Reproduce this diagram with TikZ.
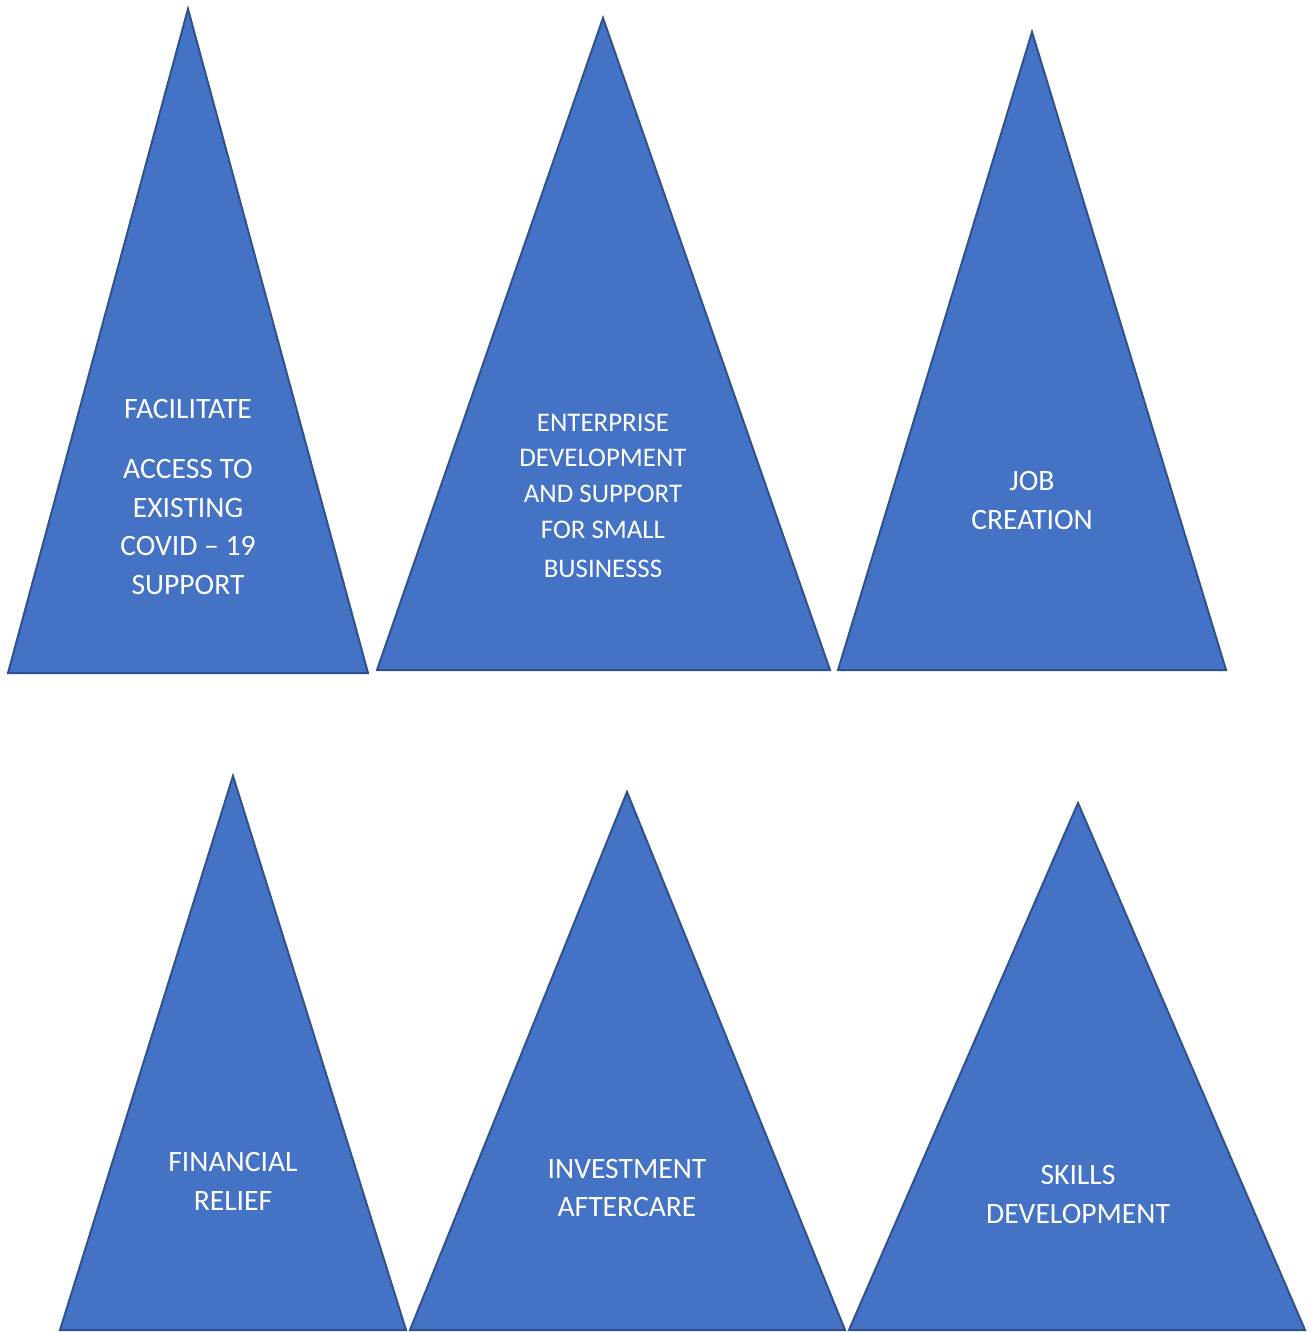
\documentclass[tikz,border=0pt]{standalone}
\usepackage{fontspec}
\setmainfont{Carlito}
\definecolor{triFill}{HTML}{4472C4}
\definecolor{triLine}{HTML}{2F528F}
\begin{document}
\begin{tikzpicture}[x=1pt,y=-1pt,
  tri/.style={fill=triFill,draw=triLine,line width=2pt,line join=miter},
  lbl/.style={text=white,anchor=base,inner sep=0pt,font=\fontsize{29.6}{35}\selectfont},
  lbls/.style={text=white,anchor=base,inner sep=0pt,font=\fontsize{26.9}{32}\selectfont}]
\useasboundingbox (0,0) rectangle (1314,1332);
% top row
\draw[tri] (188,9) -- (368,673) -- (8,673) -- cycle;
\draw[tri] (603,18) -- (830,670) -- (377,670) -- cycle;
\draw[tri] (1032,32) -- (1226,670) -- (838,670) -- cycle;
% bottom row
\draw[tri] (233,776) -- (406,1330) -- (60,1330) -- cycle;
\draw[tri] (627,792) -- (845,1330) -- (410,1330) -- cycle;
\draw[tri] (1078,803) -- (1305,1330) -- (849,1330) -- cycle;
% labels
\node[lbl] (t1a) at (188,418) {FACILITATE};
\node[lbl] (t1b) at (188,478) {ACCESS TO};
\node[lbl] (t1c) at (188,517) {EXISTING};
\node[lbl] (t1d) at (188,555) {COVID – 19};
\node[lbl] (t1e) at (188,594) {SUPPORT};
\node[lbls] (t2a) at (603,431) {ENTERPRISE};
\node[lbls] (t2b) at (603,466.5) {DEVELOPMENT};
\node[lbls] (t2c) at (603,502.5) {AND SUPPORT};
\node[lbls] (t2d) at (603,538.5) {FOR SMALL};
\node[lbls] (t2e) at (603,577) {BUSINESSS};
\node[lbl] (t3a) at (1032,490) {JOB};
\node[lbl] (t3b) at (1032,529) {CREATION};
\node[lbl] (t4a) at (233,1171) {FINANCIAL};
\node[lbl] (t4b) at (233,1210) {RELIEF};
\node[lbl] (t5a) at (627,1178) {INVESTMENT};
\node[lbl] (t5b) at (627,1216) {AFTERCARE};
\node[lbl] (t6a) at (1078,1184) {SKILLS};
\node[lbl] (t6b) at (1078,1223) {DEVELOPMENT};
\end{tikzpicture}
\end{document}
